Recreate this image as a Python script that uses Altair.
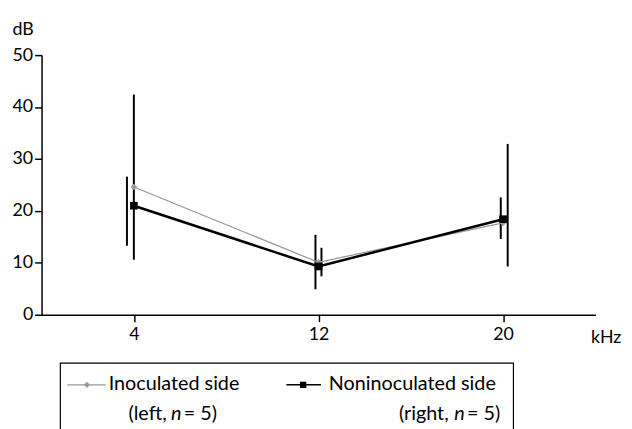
import altair as alt
import pandas as pd

# ---- data ----
freq = [4, 12, 20]
inoculated = [24.6, 10.1, 17.7]
noninoculated = [21.0, 9.3, 18.4]

# vertical bars (two sets, slightly offset in x)
barA_x = [4.0, 11.87, 20.2]
barA_lo = [10.6, 4.9, 9.3]
barA_hi = [42.4, 15.4, 32.9]
barB_x = [3.7, 12.13, 19.9]
barB_lo = [13.3, 7.4, 14.6]
barB_hi = [26.6, 12.9, 22.6]

y_ticks = [0, 10, 20, 30, 40, 50]
x_ticks = [4, 12, 20]

FONT = "Lato"
GRAY = "#9a9a9a"

df = pd.DataFrame({"f": freq, "ino": inoculated, "non": noninoculated})
bars = pd.DataFrame({
    "x": barA_x + barB_x,
    "lo": barA_lo + barB_lo,
    "hi": barA_hi + barB_hi,
})
dummy = pd.DataFrame({"k": [0]})

xs = alt.Scale(domain=[0, 24], nice=False, zero=False)
ys = alt.Scale(domain=[0, 50], nice=False)

xax = alt.Axis(values=x_ticks, title="kHz", titleX=556, titleY=28,
               titleAlign="left", titleBaseline="alphabetic", labelPadding=4,
               titleAngle=0)
yax = alt.Axis(values=y_ticks, title="dB", titleAngle=0, titleX=-30, titleY=-21,
               titleAlign="left", titleBaseline="alphabetic", labelPadding=2)

base = alt.Chart(df)

err = alt.Chart(bars).mark_rule(color="black", strokeWidth=2).encode(
    x=alt.X("x:Q", scale=xs, axis=xax),
    y=alt.Y("lo:Q", scale=ys, axis=yax),
    y2="hi:Q",
)

line_ino = base.mark_line(color=GRAY, strokeWidth=1.3).encode(
    x=alt.X("f:Q", scale=xs), y=alt.Y("ino:Q", scale=ys))
pts_ino = base.mark_point(shape="diamond", filled=True, color=GRAY, size=45, opacity=1).encode(
    x=alt.X("f:Q", scale=xs), y=alt.Y("ino:Q", scale=ys))
line_non = base.mark_line(color="black", strokeWidth=2.5).encode(
    x=alt.X("f:Q", scale=xs), y=alt.Y("non:Q", scale=ys))
pts_non = base.mark_point(shape="square", filled=True, color="black", size=60, opacity=1).encode(
    x=alt.X("f:Q", scale=xs), y=alt.Y("non:Q", scale=ys))

# ---- hand-drawn legend box (pixel positions relative to the plot area) ----
d = alt.Chart(dummy)
box = d.mark_rect(fill=None, stroke="black", strokeWidth=1.2).encode(
    x=alt.value(19), x2=alt.value(478), y=alt.value(312), y2=alt.value(400))
sym1 = d.mark_rule(color=GRAY, strokeWidth=1.3).encode(
    x=alt.value(26), x2=alt.value(65), y=alt.value(334))
sym1p = d.mark_point(shape="diamond", filled=True, color=GRAY, size=40, opacity=1).encode(
    x=alt.value(46), y=alt.value(334))
sym2 = d.mark_rule(color="black", strokeWidth=1.5).encode(
    x=alt.value(248), x2=alt.value(283), y=alt.value(334))
sym2p = d.mark_point(shape="square", filled=True, color="black", size=40, opacity=1).encode(
    x=alt.value(265), y=alt.value(334))


def txt(s, x, y, italic=False):
    return d.mark_text(align="left", baseline="middle", font=FONT, fontSize=20,
                       color="black", fontStyle="italic" if italic else "normal").encode(
        x=alt.value(x), y=alt.value(y), text=alt.value(s))


legend = [
    box, sym1, sym1p, sym2, sym2p,
    txt("Inoculated side", 68, 333),
    txt("(left,", 88, 364), txt("n", 131, 364, True), txt("= 5)", 144, 364),
    txt("Noninoculated side", 291, 333),
    txt("(right,", 362, 364), txt("n", 418, 364, True), txt("= 5)", 431, 364),
]

chart = alt.layer(err, line_ino, line_non, pts_ino, pts_non, *legend).properties(
    width=561, height=263,
    autosize=alt.AutoSizeParams(type="none"),
    padding={"left": 34, "top": 45, "right": 29, "bottom": 113},
    background="white",
).configure_view(stroke=None).configure_axis(
    grid=False, domainColor="black", domainWidth=1.5, tickColor="black",
    tickWidth=1.5, tickSize=7, labelFont=FONT, labelFontSize=18, labelColor="black",
    titleFont=FONT, titleFontSize=18, titleColor="black", titleFontWeight="normal",
)

chart.save("out.html", embed_options={"renderer": "svg", "actions": False})
